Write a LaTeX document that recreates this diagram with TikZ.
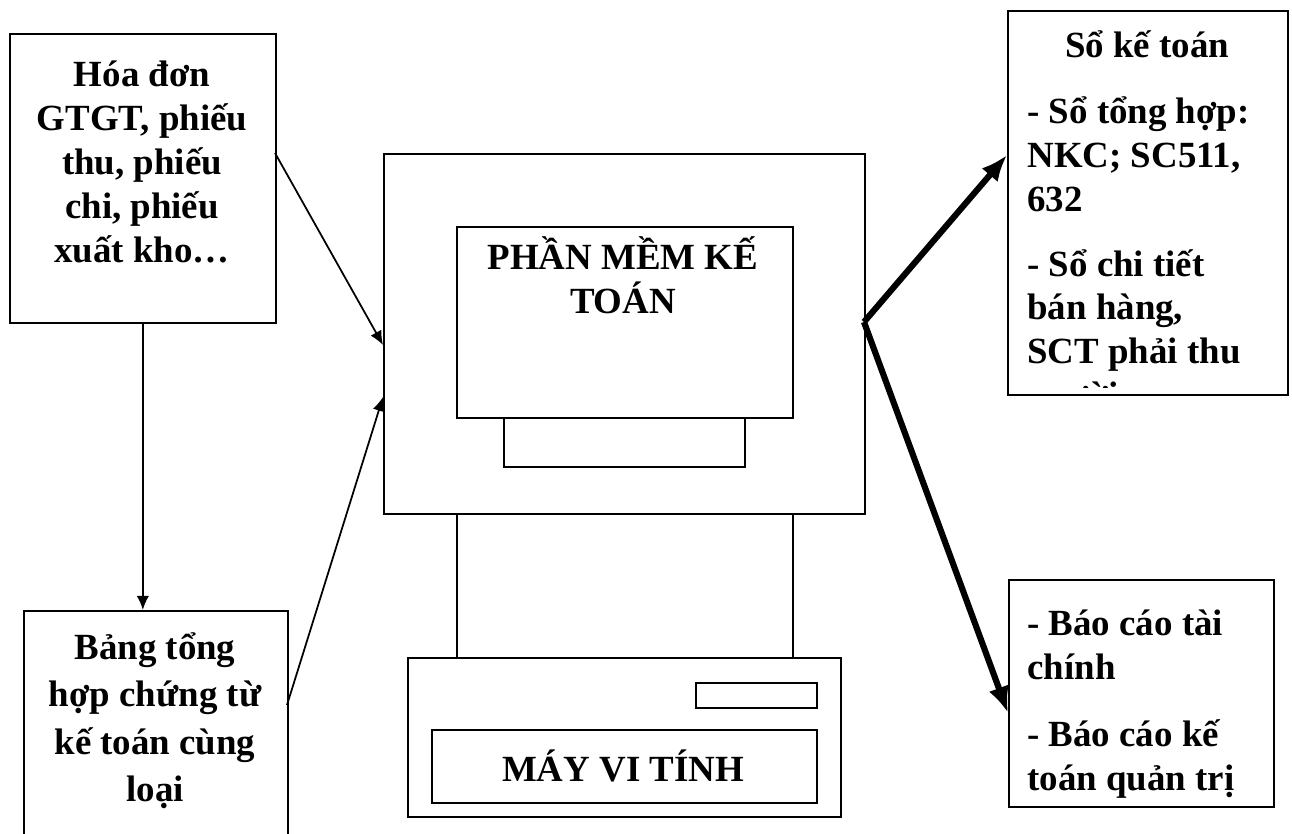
\documentclass[tikz,border=0pt]{standalone}
\usepackage{fontspec}
\setmainfont{Liberation Serif}
\usepackage{tikz}
\usetikzlibrary{arrows.meta}
\usetikzlibrary{positioning}

\tikzset{
    khung/.style={draw, line width=1pt, inner sep=0pt, anchor=north west},
    chu/.style={font=\fontsize{21}{25}\selectfont\bfseries, inner sep=0pt},
    muiten/.style={-{Latex[length=8pt,width=7pt]}, line width=1pt},
    muitenday/.style={-{Latex[length=15pt,width=12pt]}, line width=3.5pt},
}

\begin{document}
\begin{tikzpicture}[x=0.02cm, y=-0.02cm]
        \clip (0, 0) rectangle (1292, 834);

        % chung tu
        \node[khung, minimum width=5.32cm, minimum height=5.78cm] (hoadon) at (9, 33) {};
        \node[chu, align=center, anchor=north] (hoadontxt) at (142, 61)
            {Hóa đơn\\GTGT, phiếu\\thu, phiếu\\chi, phiếu\\xuất kho…};
        \node[khung, minimum width=5.28cm, minimum height=5.6cm] (bang) at (23, 610) {};
        \node[chu, align=center, anchor=north] (bangtxt) at (155, 632)
            {Bảng tổng\\[2pt]hợp chứng từ\\[2pt]kế toán cùng\\[2pt]loại};

        % may vi tinh
        \node[khung, minimum width=9.62cm, minimum height=7.2cm] (manhinh) at (383, 153) {};
        \node[khung, minimum width=6.72cm, minimum height=3.82cm] (phanmem) at (456, 226) {};
        \node[chu, align=center, anchor=north] (phanmemtxt) at (623, 236)
            {PHẦN MỀM KẾ\\TOÁN};
        \node[khung, minimum width=4.82cm, minimum height=0.98cm] (chan) at (503, 417) {};
        \node[khung, minimum width=6.72cm, minimum height=2.88cm] (co) at (456, 513) {};
        \node[khung, minimum width=8.66cm, minimum height=3.18cm] (than) at (407, 657) {};
        \node[khung, minimum width=2.42cm, minimum height=0.5cm] (khe) at (695, 682) {};
        \node[khung, minimum width=7.7cm, minimum height=1.46cm] (nhan) at (431, 729) {};
        \node[chu] (nhantxt) at (623, 766) {MÁY VI TÍNH};

        % so ke toan
        \node[khung, minimum width=5.6cm, minimum height=7.68cm] (so) at (1007, 10) {};
        \node[chu, anchor=north] (sotxt) at (1147, 30) {Sổ kế toán};
        \begin{scope}
            \clip (1008, 11) rectangle (1286, 388);
            \node[chu, align=left, anchor=north west] (sochitxt) at (1027, 96)
                {- Sổ tổng hợp:\\NKC; SC511,\\632\\[12pt]- Sổ chi tiết\\bán hàng,\\SCT phải thu\\người mua};
        \end{scope}

        % bao cao
        \node[khung, minimum width=5.3cm, minimum height=4.54cm] (baocao) at (1008, 579) {};
        \node[chu, align=left, anchor=north west] (baocaotxt) at (1027, 610)
            {- Báo cáo tài\\chính\\[13pt]- Báo cáo kế\\toán quản trị};

        % diem noi
        \coordinate (hdra) at (275, 153);
        \coordinate (mhvao1) at (383, 345);
        \coordinate (bra) at (287, 705);
        \coordinate (mhvao2) at (383, 397);
        \coordinate (mhra) at (864, 322);
        \coordinate (sovao) at (1007, 155);
        \coordinate (bcvao) at (1008, 713);

        \draw[muiten] (hdra) -- (mhvao1);
        \draw[muiten] (hoadon.south) -- (hoadon.south |- bang.north);
        \draw[muiten] (bra) -- (mhvao2);
        \draw[muitenday] (mhra) -- (sovao);
        \draw[muitenday] (mhra) -- (bcvao);
\end{tikzpicture}
\end{document}
